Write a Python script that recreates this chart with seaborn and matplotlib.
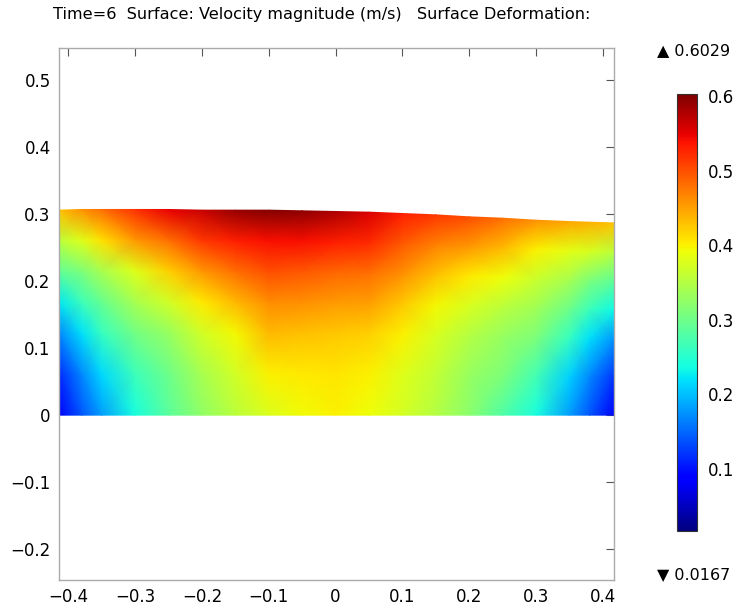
import numpy as np
import matplotlib
matplotlib.use("Agg")
import matplotlib.pyplot as plt
import seaborn as sns

sns.set_theme(style="white")
plt.rcParams['font.family'] = ['DejaVu Sans']
plt.rcParams['text.color'] = 'black'

# ---- data ----
x_cols = [-0.4140, -0.38, -0.35, -0.30, -0.25, -0.20, -0.15, -0.10, -0.05, 0.0,
          0.05, 0.10, 0.15, 0.20, 0.25, 0.30, 0.35, 0.38, 0.4167]
top_height = [0.306, 0.307, 0.307, 0.307, 0.307, 0.306, 0.306, 0.306, 0.305, 0.304,
              0.303, 0.301, 0.299, 0.296, 0.294, 0.291, 0.289, 0.288, 0.287]
eta_rows = [0.0, 0.2, 0.4, 0.55, 0.7, 0.85, 1.0]
speed_row0 = [0.08, 0.14, 0.18, 0.24, 0.285, 0.325, 0.355, 0.378, 0.393, 0.40, 0.39, 0.372, 0.35, 0.32, 0.28, 0.24, 0.18, 0.14, 0.08]
speed_row1 = [0.115, 0.17, 0.215, 0.265, 0.30, 0.34, 0.37, 0.40, 0.405, 0.408, 0.40, 0.38, 0.36, 0.33, 0.31, 0.27, 0.21, 0.17, 0.12]
speed_row2 = [0.17, 0.22, 0.26, 0.305, 0.33, 0.37, 0.395, 0.435, 0.43, 0.425, 0.42, 0.40, 0.375, 0.35, 0.33, 0.31, 0.26, 0.22, 0.175]
speed_row3 = [0.225, 0.265, 0.295, 0.34, 0.37, 0.405, 0.435, 0.463, 0.46, 0.452, 0.45, 0.425, 0.395, 0.375, 0.355, 0.335, 0.30, 0.265, 0.232]
speed_row4 = [0.29, 0.31, 0.34, 0.38, 0.42, 0.455, 0.48, 0.50, 0.495, 0.485, 0.48, 0.46, 0.43, 0.405, 0.39, 0.365, 0.34, 0.31, 0.29]
speed_row5 = [0.355, 0.38, 0.41, 0.455, 0.48, 0.515, 0.53, 0.54, 0.54, 0.53, 0.525, 0.495, 0.47, 0.456, 0.435, 0.40, 0.385, 0.375, 0.355]
speed_row6 = [0.43, 0.46, 0.48, 0.52, 0.55, 0.565, 0.59, 0.60, 0.595, 0.58, 0.555, 0.53, 0.515, 0.50, 0.48, 0.46, 0.445, 0.44, 0.43]
v_min, v_max = 0.0167, 0.6029
x_ticks = [-0.4, -0.3, -0.2, -0.1, 0.0, 0.1, 0.2, 0.3, 0.4]
x_labels = ["\u22120.4", "\u22120.3", "\u22120.2", "\u22120.1", "0", "0.1", "0.2", "0.3", "0.4"]
y_ticks = [-0.2, -0.1, 0.0, 0.1, 0.2, 0.3, 0.4, 0.5]
y_labels = ["\u22120.2", "\u22120.1", "0", "0.1", "0.2", "0.3", "0.4", "0.5"]
cb_ticks = [0.1, 0.2, 0.3, 0.4, 0.5, 0.6]
cb_labels = ["0.1", "0.2", "0.3", "0.4", "0.5", "0.6"]
title = "Time=6  Surface: Velocity magnitude (m/s)   Surface Deformation:"

# ---- build the deformed mesh ----
speed = np.array([speed_row0, speed_row1, speed_row2, speed_row3,
                  speed_row4, speed_row5, speed_row6])
X, E = np.meshgrid(np.array(x_cols), np.array(eta_rows))
Y = E * np.array(top_height)[None, :]

fig = plt.figure(figsize=(7.35, 6.06), dpi=100)
ax = fig.add_axes([59/735, 1-580/606, (614-59)/735, (580-48)/606])
cax = fig.add_axes([677/735, 1-531/606, 20/735, (531-94)/606])

mesh = ax.pcolormesh(X, Y, speed, shading='gouraud', cmap='jet', vmin=v_min, vmax=v_max)
ax.set_xlim(-0.4140, 0.4167)
ax.set_ylim(-0.246, 0.548)
ax.set_xticks(x_ticks)
ax.set_xticklabels(x_labels)
ax.set_yticks(y_ticks)
ax.set_yticklabels(y_labels)
ax.tick_params(direction='in', length=6, width=0.8, color='#555555',
               top=True, right=True, labelsize=12, labelcolor='black', pad=6)
for s in ax.spines.values():
    s.set_color('#aaaaaa')
    s.set_linewidth(1.0)
ax.set_facecolor('white')
ax.grid(False)

cb = fig.colorbar(mesh, cax=cax)
cb.set_ticks(cb_ticks)
cb.set_ticklabels(cb_labels)
cax.tick_params(direction='in', length=3, width=0.8, color='black', left=True, right=True,
                labelsize=12, labelcolor='black', pad=8)
cb.outline.set_edgecolor('#333333')
cb.outline.set_linewidth(0.8)

fig.text(53/735, 1-14/606, title, ha='left', va='center', fontsize=11.6, color='black')
fig.text(657/735, 1-51/606, "\u25B2 " + "%.4f" % v_max, ha='left', va='center', fontsize=11.5, color='black')
fig.text(657/735, 1-575/606, "\u25BC " + "%.4f" % v_min, ha='left', va='center', fontsize=11.5, color='black')

fig.savefig("out.png", dpi=100)
